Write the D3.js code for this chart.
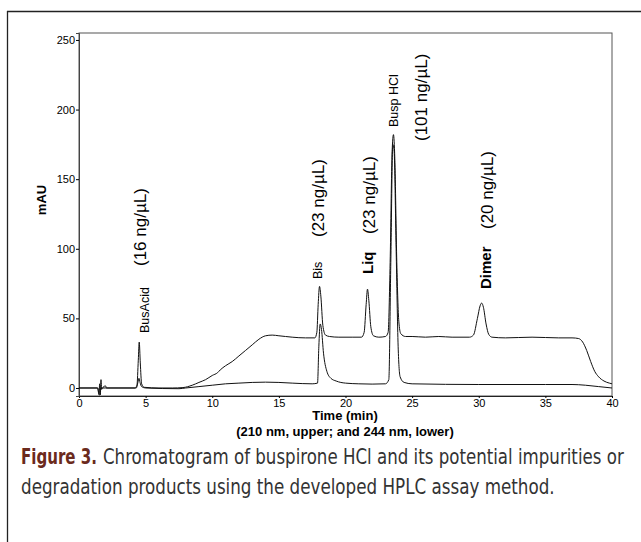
<!DOCTYPE html>
<html>
<head>
<meta charset="utf-8">
<script src="https://cdn.jsdelivr.net/npm/d3@7"></script>
<style>
  body { margin: 0; background: #fff; }
  svg { display: block; }
</style>
</head>
<body>
<svg id="chrom" width="641" height="542"></svg>
<script>
// time (min), absorbance (mAU)
var upperTime = [0, 1.4, 1.5, 1.55, 1.6, 1.65, 1.7, 1.8, 2.0, 2.05, 3, 4.2, 4.35, 4.45, 4.52, 4.6, 4.7, 4.9, 6, 7,
  7.8, 8.5, 9, 9.5, 10, 10.4, 10.6, 11, 11.5, 12, 12.5, 13, 13.5, 14, 14.5, 15, 15.5, 16, 17, 17.7,
  17.85, 17.95, 18.05, 18.15, 18.3, 18.5, 18.8, 19.5, 20.5, 21.2, 21.4, 21.55, 21.65, 21.75, 21.9, 22.1, 22.5, 23, 23.2, 23.35,
  23.5, 23.6, 23.7, 23.85, 24.0, 24.15, 24.5, 25, 26, 27, 28, 29.3, 29.6, 29.9, 30.1, 30.22, 30.35, 30.55, 30.75, 31,
  32, 34, 36, 37, 37.5, 37.8, 38.1, 38.4, 38.7, 39, 39.4, 39.8, 40];
var upperMAU = [0, 0, -4, 3, -5, 6, -1, 0.5, 1.5, 0, 0, 0, 2, 20, 33, 18, 3, 0.5, 0, 0,
  0.3, 2, 4, 6, 9, 11, 13, 16, 19, 23, 27, 31, 35, 37.5, 38, 37.5, 37, 36.5, 36, 36,
  40, 60, 73, 66, 45, 38, 37, 36.5, 36.5, 36.5, 40, 60, 71, 63, 44, 37.5, 36.5, 37, 40, 90,
  170, 182, 165, 90, 48, 39, 37, 37, 36.5, 37, 36.5, 36.5, 38, 50, 59, 61, 58, 46, 38.5, 36.5,
  36, 36.5, 36, 36, 35.5, 33, 27, 19, 12, 8, 5, 3.5, 3];

var lowerTime = [0, 1.4, 1.5, 1.55, 1.6, 2, 4.3, 4.42, 4.5, 4.58, 4.7, 5, 7.5, 8, 9, 10, 11, 12, 13, 14,
  15, 16, 17.5, 17.9, 18.0, 18.1, 18.2, 18.35, 18.6, 18.9, 19.3, 20, 21, 22, 23, 23.25, 23.4, 23.55, 23.65, 23.8,
  23.95, 24.1, 24.4, 25, 30, 35, 37, 38, 39, 40];
var lowerMAU = [0, 0, -5, -5, 0, 0, 0, 4, 7, 4, 1, 0, -0.5, 0, 1, 2, 3, 3.5, 4, 4.2,
  4, 3.5, 3, 3.5, 30, 46, 42, 25, 12, 7, 5, 3.5, 3, 2.8, 3, 6, 90, 175, 170, 100,
  30, 8, 4, 3, 2.5, 2.5, 2.5, 2, 1, 0];

var peakNames = ["BusAcid", "Bis", "Liq", "Busp HCl", "Dimer"];
var peakTimes = [4.5, 18.05, 21.65, 23.6, 30.2];
var peakConc = ["(16 ng/\u00b5L)", "(23 ng/\u00b5L)", "(23 ng/\u00b5L)", "(101 ng/\u00b5L)", "(20 ng/\u00b5L)"];
var peakBold = [false, false, true, false, true];

var xTicks = [0, 5, 10, 15, 20, 25, 30, 35, 40];
var yTicks = [0, 50, 100, 150, 200, 250];

var svg = d3.select("#chrom");
var plotL = 79, plotR = 612, plotT = 33, plotB = 396;

var x = d3.scaleLinear().domain([0, 40]).range([plotL, plotR]);
var y = d3.scaleLinear().domain([-5.75, 255]).range([plotB, plotT]);

// figure box (top and left rules)
svg.append("line").attr("x1", 7).attr("x2", 641).attr("y1", 11.5).attr("y2", 11.5)
    .attr("stroke", "#222").attr("stroke-width", 1.3);
svg.append("line").attr("x1", 7.5).attr("x2", 7.5).attr("y1", 11).attr("y2", 542)
    .attr("stroke", "#222").attr("stroke-width", 1.3);

// plot frame
svg.append("rect")
    .attr("x", plotL).attr("y", plotT)
    .attr("width", plotR - plotL).attr("height", plotB - plotT)
    .attr("fill", "none").attr("stroke", "#555").attr("stroke-width", 1);

svg.append("g")
    .attr("transform", "translate(0," + plotB + ")")
    .call(d3.axisBottom(x).tickValues(xTicks).tickSize(2).tickPadding(1))
    .call(function(g) { g.select(".domain").attr("stroke", "#222"); })
    .selectAll("text")
    .attr("font-family", "Liberation Sans, Arial, sans-serif")
    .attr("font-size", 11).attr("fill", "#000");

svg.append("g")
    .attr("transform", "translate(" + plotL + ",0)")
    .call(d3.axisLeft(y).tickValues(yTicks).tickSize(3).tickPadding(1))
    .call(function(g) { g.select(".domain").attr("stroke", "#444"); })
    .selectAll("text")
    .attr("font-family", "Liberation Sans, Arial, sans-serif")
    .attr("font-size", 11).attr("fill", "#000");

var line = d3.line()
    .x(function(d) { return x(d[0]); })
    .y(function(d) { return y(d[1]); })
    .curve(d3.curveMonotoneX);

var plot = svg.append("g");
plot.append("path")
    .datum(d3.zip(lowerTime, lowerMAU))
    .attr("d", line).attr("fill", "none").attr("stroke", "#111").attr("stroke-width", 1);
plot.append("path")
    .datum(d3.zip(upperTime, upperMAU))
    .attr("d", line).attr("fill", "none").attr("stroke", "#111").attr("stroke-width", 1);

// peak labels, rotated, reading bottom to top
var nameBottom = [333, 279, 274, 127, 289];
var concBottom = [266, 237, 234, 141, 229];
var nameDx = [6, -2, 0, 0, 4];
var concDx = [1, -1, 2, 28, 6];

peakNames.forEach(function(name, i) {
    var px = x(peakTimes[i]);
    svg.append("text")
        .attr("transform", "translate(" + (px + nameDx[i]) + "," + nameBottom[i] + ") rotate(-90)")
        .attr("dy", "0.35em")
        .attr("font-family", "Liberation Sans, Arial, sans-serif")
        .attr("font-size", peakBold[i] ? 15 : 12.5)
        .attr("font-weight", peakBold[i] ? "bold" : "normal")
        .text(name);
    svg.append("text")
        .attr("transform", "translate(" + (px + concDx[i]) + "," + concBottom[i] + ") rotate(-90)")
        .attr("dy", "0.35em")
        .attr("font-family", "Liberation Sans, Arial, sans-serif")
        .attr("font-size", 17)
        .text(peakConc[i]);
});

// axis titles
svg.append("text")
    .attr("transform", "translate(41,200) rotate(-90)")
    .attr("dy", "0.35em").attr("text-anchor", "middle")
    .attr("font-family", "Liberation Sans, Arial, sans-serif")
    .attr("font-size", 13).attr("font-weight", "bold")
    .text("mAU");

svg.append("text")
    .attr("x", 345).attr("y", 420).attr("text-anchor", "middle")
    .attr("font-family", "Liberation Sans, Arial, sans-serif")
    .attr("font-size", 13).attr("font-weight", "bold")
    .text("Time (min)");
svg.append("text")
    .attr("x", 345).attr("y", 436).attr("text-anchor", "middle")
    .attr("font-family", "Liberation Sans, Arial, sans-serif")
    .attr("font-size", 13).attr("font-weight", "bold")
    .text("(210 nm, upper; and 244 nm, lower)");

// caption: squeeze each piece horizontally to the width it has in the print
var cap = svg.append("g")
    .attr("font-family", "Liberation Sans Narrow, DejaVu Sans Condensed, sans-serif")
    .attr("font-size", 21).attr("fill", "#333");

function capText(str, x0, y0, w, bold) {
    var t = cap.append("text").text(str);
    if (bold) t.attr("font-weight", "bold").attr("fill", "#6b2a1c");
    var natural = t.node().getComputedTextLength();
    t.attr("transform", "translate(" + x0 + "," + y0 + ") scale(" + (w / natural) + ",1)");
}
capText("Figure 3.", 21, 464, 76, true);
capText("Chromatogram of buspirone HCl and its potential impurities or", 103, 464, 521, false);
capText("degradation products using the developed HPLC assay method.", 21, 494, 534, false);
</script>
</body>
</html>
